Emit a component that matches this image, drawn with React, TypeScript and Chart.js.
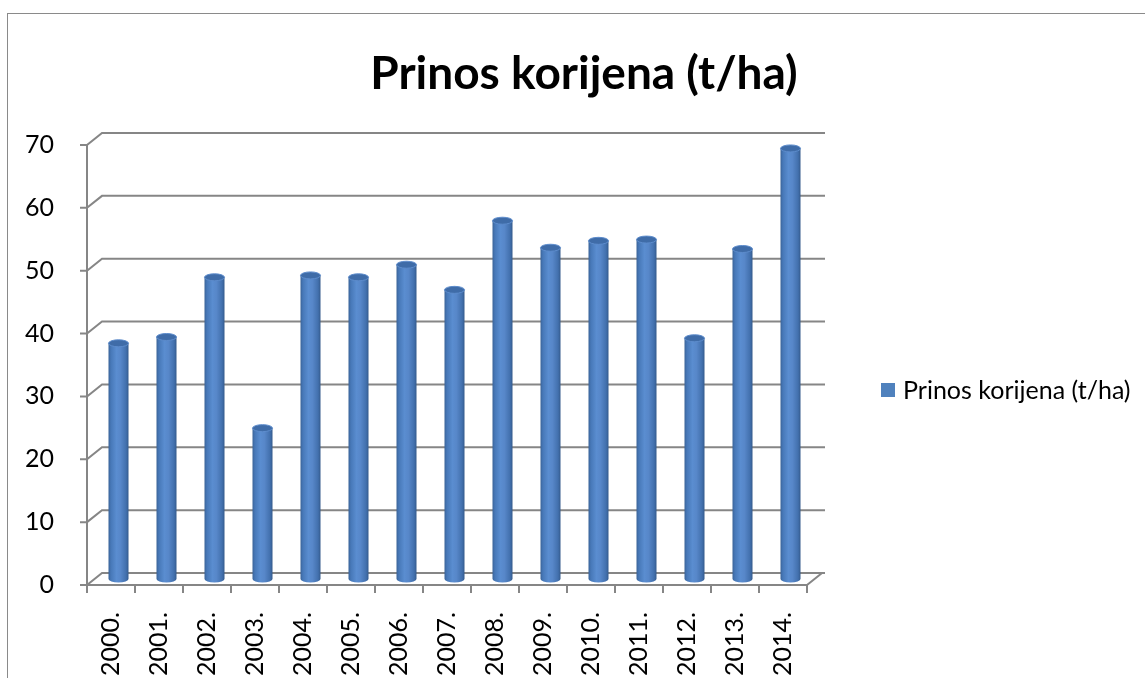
import React, { useEffect, useRef } from "react";
import { Chart, registerables } from "chart.js";

Chart.register(...registerables);

const TITLE = "Prinos korijena (t/ha)";
const SERIES_NAME = "Prinos korijena (t/ha)";
const categories = ["2000.", "2001.", "2002.", "2003.", "2004.", "2005.", "2006.", "2007.", "2008.", "2009.", "2010.", "2011.", "2012.", "2013.", "2014."];
const yields = [37.5, 38.5, 48, 24, 48.3, 48, 50, 46, 57, 52.7, 53.8, 54, 38.3, 52.5, 68.5];
const yMin = 0;
const yMax = 70;
const yStep = 10;

const DX = 15;
const DY = -12;
const GRID = "#868686";
const FONT = "Lato";

const framePlugin = {
  id: "frame3d",
  beforeDraw(chart: any) {
    const ctx = chart.ctx;
    ctx.save();
    ctx.fillStyle = "#ffffff";
    ctx.fillRect(0, 0, chart.width, chart.height);
    ctx.strokeStyle = "#8a8a8a";
    ctx.lineWidth = 1;
    ctx.strokeRect(7.5, 13.5, chart.width + 50, chart.height + 50);
    // title
    ctx.fillStyle = "#000";
    ctx.font = `bold 46px ${FONT}`;
    ctx.textAlign = "center";
    ctx.textBaseline = "alphabetic";
    ctx.fillText(TITLE, 584, 89);
    // legend
    ctx.fillStyle = "#4f81bd";
    ctx.fillRect(881, 383, 14, 14);
    ctx.fillStyle = "#000";
    ctx.font = `25px ${FONT}`;
    ctx.textAlign = "left";
    ctx.textBaseline = "middle";
    ctx.fillText(SERIES_NAME, 903, 391);
    ctx.restore();
  },
  beforeDatasetsDraw(chart: any) {
    const { ctx, chartArea, scales } = chart;
    const x = scales.x;
    const y = scales.y;
    const L = chartArea.left;
    const R = chartArea.right;
    ctx.save();
    ctx.strokeStyle = GRID;
    ctx.lineWidth = 2;
    ctx.lineJoin = "miter";
    const y0 = y.getPixelForValue(yMin);
    const yTop = y.getPixelForValue(yMax);
    ctx.beginPath();
    y.ticks.forEach((t: any) => {
      const yy = y.getPixelForValue(t.value);
      ctx.moveTo(L - 7, yy);
      ctx.lineTo(L, yy);
      ctx.lineTo(L + DX, yy + DY);
      ctx.lineTo(R + DX + 3, yy + DY);
    });
    ctx.moveTo(L, yTop);
    ctx.lineTo(L, y0);
    ctx.moveTo(L, y0);
    ctx.lineTo(R, y0);
    ctx.lineTo(R + DX, y0 + DY);
    const w = x.getPixelForValue(1) - x.getPixelForValue(0);
    for (let i = 0; i <= categories.length; i++) {
      const xx = x.getPixelForValue(0) - w / 2 + i * w;
      ctx.moveTo(xx, y0);
      ctx.lineTo(xx, y0 + 8);
    }
    ctx.stroke();

    // cylinders
    const meta = chart.getDatasetMeta(0);
    meta.data.forEach((bar: any) => {
      const p = bar.getProps(["x", "y", "base", "width"], true);
      const cx = p.x + DX / 2;
      const top = p.y + DY / 2;
      const bot = p.base + DY / 2;
      const rx = p.width / 2;
      const ry = 3.5;
      const g = ctx.createLinearGradient(cx - rx, 0, cx + rx, 0);
      g.addColorStop(0, "#3a6398");
      g.addColorStop(0.12, "#4778b8");
      g.addColorStop(0.4, "#5a8dd0");
      g.addColorStop(0.6, "#5787c9");
      g.addColorStop(0.88, "#4270ad");
      g.addColorStop(1, "#345a8c");
      ctx.fillStyle = g;
      ctx.fillRect(cx - rx, top, 2 * rx, bot - top);
      ctx.beginPath();
      ctx.ellipse(cx, bot, rx, ry, 0, 0, Math.PI);
      ctx.fill();
      ctx.beginPath();
      ctx.ellipse(cx, top, rx, ry, 0, 0, Math.PI * 2);
      ctx.fillStyle = "#3f6ca8";
      ctx.fill();
      ctx.strokeStyle = "#5d8ccc";
      ctx.lineWidth = 1;
      ctx.stroke();
    });
    ctx.restore();
    return false;
  },
};

export default function App() {
  const ref = useRef<HTMLCanvasElement | null>(null);
  useEffect(() => {
    if (!ref.current) return;
    const chart = new Chart(ref.current, {
      type: "bar",
      data: {
        labels: categories,
        datasets: [
          {
            label: SERIES_NAME,
            data: yields,
            backgroundColor: "#4f81bd",
            barThickness: 20,
          },
        ],
      },
      options: {
        animation: false,
        responsive: true,
        maintainAspectRatio: false,
        events: [],
        layout: { padding: { left: 0, right: 338, top: 145, bottom: 0 } },
        plugins: {
          legend: { display: false },
          title: { display: false },
          tooltip: { enabled: false },
        },
        scales: {
          x: {
            grid: { display: false },
            border: { display: false },
            ticks: {
              color: "#000",
              font: { family: FONT, size: 25 },
              maxRotation: 90,
              minRotation: 90,
              padding: 19,
              autoSkip: false,
            },
            afterFit: (s: any) => {
              s.height = 93;
            },
          },
          y: {
            min: yMin,
            max: yMax,
            grid: { display: false },
            border: { display: false },
            ticks: {
              stepSize: yStep,
              color: "#000",
              font: { family: FONT, size: 25 },
              padding: 25,
            },
            afterFit: (s: any) => {
              s.width = 87;
            },
          },
        },
      },
      plugins: [framePlugin],
    });
    return () => chart.destroy();
  }, []);
  return (
    <div style={{ position: "fixed", left: 0, top: 0, width: 1145, height: 678, background: "#fff" }}>
      <canvas ref={ref} />
    </div>
  );
}
